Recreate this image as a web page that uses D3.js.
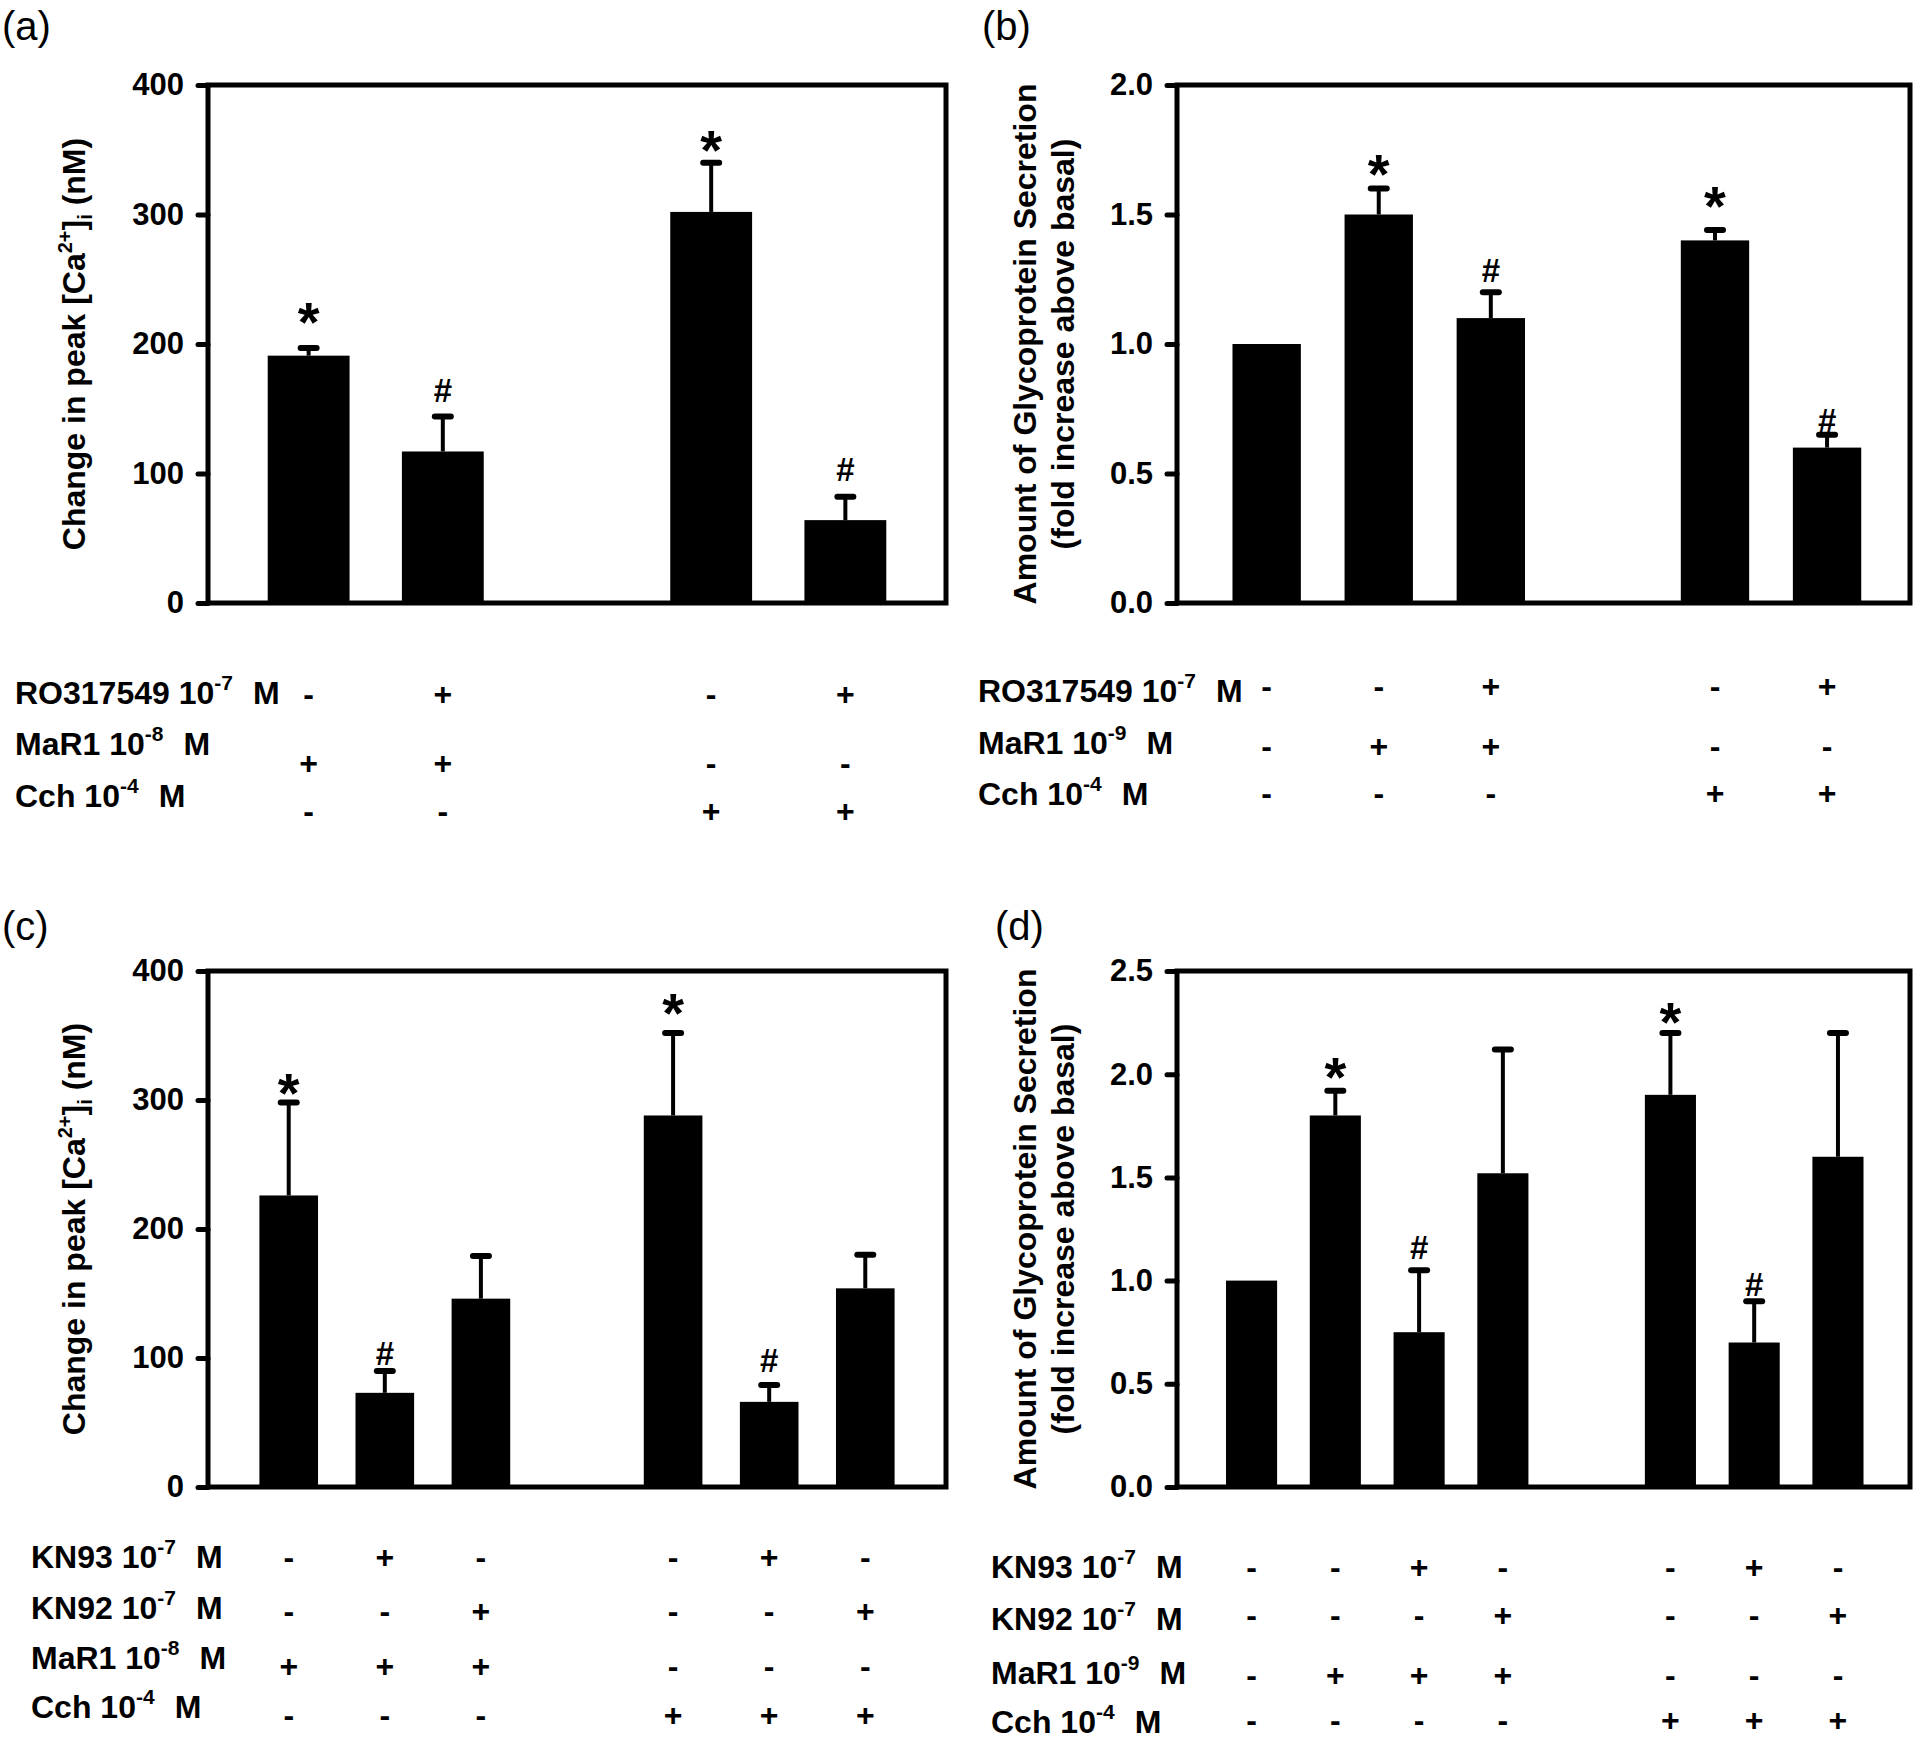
<!DOCTYPE html>
<html>
<head>
<meta charset="utf-8">
<script src="https://cdn.jsdelivr.net/npm/d3@7"></script>
<style>
    body { margin: 0; background: #fff; }
    text { font-family: "Liberation Sans", Arial, sans-serif; fill: #000; }
</style>
</head>
<body>
<svg id="fig" width="1920" height="1740"></svg>
<script>
// ---- Panel (a): [Ca2+]i, RO317549 ----
const posA = [0, 1, 3, 4];
const meanA = [191, 117, 302, 64];
const errA = [6, 27, 38, 18];
const markA = ["*", "#", "*", "#"];
const markValA = [223, 164, 356, 103];
const rowNamesA = [["RO317549 10", "-7"], ["MaR1 10", "-8"], ["Cch 10", "-4"]];
const signsA = [
    ["-", "+", "-", "+"],
    ["+", "+", "-", "-"],
    ["-", "-", "+", "+"]
];

// ---- Panel (b): glycoprotein, RO317549 ----
const posB = [0, 1, 2, 4, 5];
const meanB = [1.0, 1.5, 1.1, 1.4, 0.6];
const errB = [0, 0.1, 0.1, 0.04, 0.05];
const markB = ["", "*", "#", "*", "#"];
const markValB = [null, 1.687, 1.282, 1.564, 0.703];
const rowNamesB = [["RO317549 10", "-7"], ["MaR1 10", "-9"], ["Cch 10", "-4"]];
const signsB = [
    ["-", "-", "+", "-", "+"],
    ["-", "+", "+", "-", "-"],
    ["-", "-", "-", "+", "+"]
];

// ---- Panel (c): [Ca2+]i, KN93 / KN92 ----
const posC = [0, 1, 2, 4, 5, 6];
const meanC = [226, 73, 146, 288, 66, 154];
const errC = [72, 17, 33, 64, 13, 26];
const markC = ["*", "#", "", "*", "#", ""];
const markValC = [312, 103, null, 374, 98, null];
const rowNamesC = [["KN93 10", "-7"], ["KN92 10", "-7"], ["MaR1 10", "-8"], ["Cch 10", "-4"]];
const signsC = [
    ["-", "+", "-", "-", "+", "-"],
    ["-", "-", "+", "-", "-", "+"],
    ["+", "+", "+", "-", "-", "-"],
    ["-", "-", "-", "+", "+", "+"]
];

// ---- Panel (d): glycoprotein, KN93 / KN92 ----
const posD = [0, 1, 2, 3, 5, 6, 7];
const meanD = [1.0, 1.8, 0.75, 1.52, 1.9, 0.7, 1.6];
const errD = [0, 0.12, 0.30, 0.60, 0.30, 0.20, 0.60];
const markD = ["", "*", "#", "", "*", "#", ""];
const markValD = [null, 2.025, 1.158, null, 2.29, 0.979, null];
const rowNamesD = [["KN93 10", "-7"], ["KN92 10", "-7"], ["MaR1 10", "-9"], ["Cch 10", "-4"]];
const signsD = [
    ["-", "-", "+", "-", "-", "+", "-"],
    ["-", "-", "-", "+", "-", "-", "+"],
    ["-", "+", "+", "+", "-", "-", "-"],
    ["-", "-", "-", "-", "+", "+", "+"]
];

const ticksCa = [0, 100, 200, 300, 400];
const ticksGlyB = [0, 0.5, 1.0, 1.5, 2.0];
const ticksGlyD = [0, 0.5, 1.0, 1.5, 2.0, 2.5];

const svg = d3.select("#fig");
const fontSize = 32;

// Layout of the four panels (pixel boxes of each frame and its table)
const panels = [
    {
        tag: "(a)", tagX: 2, tagY: 40, x0: 208, x1: 946, y0: 85, y1: 603,
        xDomain: [-0.75, 4.75], yDomain: [0, 400], ticks: ticksCa, fmt: d3.format("d"),
        pos: posA, mean: meanA, err: errA, mark: markA, markVal: markValA,
        rows: rowNamesA, signs: signsA, labelX: 15,
        labelY: [693, 744, 796], signY: [694, 763, 811], title: "ca"
    },
    {
        tag: "(b)", tagX: 982, tagY: 40, x0: 1177, x1: 1910, y0: 85, y1: 603,
        xDomain: [-0.8, 5.74], yDomain: [0, 2], ticks: ticksGlyB, fmt: d3.format(".1f"),
        pos: posB, mean: meanB, err: errB, mark: markB, markVal: markValB,
        rows: rowNamesB, signs: signsB, labelX: 978,
        labelY: [691, 743, 794], signY: [686, 746, 793], title: "gly"
    },
    {
        tag: "(c)", tagX: 2, tagY: 940, x0: 208, x1: 946, y0: 971, y1: 1487,
        xDomain: [-0.84, 6.84], yDomain: [0, 400], ticks: ticksCa, fmt: d3.format("d"),
        pos: posC, mean: meanC, err: errC, mark: markC, markVal: markValC,
        rows: rowNamesC, signs: signsC, labelX: 31,
        labelY: [1557, 1608, 1658, 1707], signY: [1557, 1611, 1666, 1715], title: "ca"
    },
    {
        tag: "(d)", tagX: 995, tagY: 940, x0: 1177, x1: 1910, y0: 971, y1: 1487,
        xDomain: [-0.89, 7.86], yDomain: [0, 2.5], ticks: ticksGlyD, fmt: d3.format(".1f"),
        pos: posD, mean: meanD, err: errD, mark: markD, markVal: markValD,
        rows: rowNamesD, signs: signsD, labelX: 991,
        labelY: [1567, 1619, 1673, 1722], signY: [1567, 1615, 1675, 1720], title: "gly"
    }
];

panels.forEach(drawPanel);

function drawPanel(p) {
    const g = svg.append("g");

    const x = d3.scaleLinear().domain(p.xDomain).range([p.x0, p.x1]);
    const y = d3.scaleLinear().domain(p.yDomain).range([p.y1, p.y0]);
    const barWidth = (x(1) - x(0)) * 0.61;

    // Panel letter
    g.append("text")
        .attr("x", p.tagX)
        .attr("y", p.tagY)
        .attr("font-size", 40)
        .text(p.tag);

    // Bars
    g.selectAll("rect.bar")
        .data(p.mean)
        .enter()
        .append("rect")
        .attr("class", "bar")
        .attr("x", (d, i) => x(p.pos[i]) - barWidth / 2)
        .attr("y", d => y(d))
        .attr("width", barWidth)
        .attr("height", d => y(0) - y(d))
        .attr("fill", "#000");

    // Error bars (only the upper half is shown)
    const errData = p.mean
        .map((m, i) => ({ pos: p.pos[i], lo: m, hi: m + p.err[i] }))
        .filter(d => d.hi > d.lo);

    g.selectAll("line.err")
        .data(errData)
        .enter()
        .append("line")
        .attr("x1", d => x(d.pos))
        .attr("x2", d => x(d.pos))
        .attr("y1", d => y(d.lo))
        .attr("y2", d => y(d.hi))
        .attr("stroke", "#000")
        .attr("stroke-width", 4);

    g.selectAll("line.cap")
        .data(errData)
        .enter()
        .append("line")
        .attr("x1", d => x(d.pos) - 8)
        .attr("x2", d => x(d.pos) + 8)
        .attr("y1", d => y(d.hi))
        .attr("y2", d => y(d.hi))
        .attr("stroke", "#000")
        .attr("stroke-width", 6)
        .attr("stroke-linecap", "round");

    // Significance marks; the value is the centre of the glyph
    const markData = p.mark
        .map((m, i) => ({ sym: m, pos: p.pos[i], v: p.markVal[i] }))
        .filter(d => d.sym !== "");

    g.selectAll("text.mark")
        .data(markData)
        .enter()
        .append("text")
        .attr("x", d => x(d.pos))
        .attr("y", d => d.sym === "*" ? y(d.v) + 27 : y(d.v) + 11)
        .attr("text-anchor", "middle")
        .attr("font-weight", "bold")
        .attr("font-size", d => d.sym === "*" ? 56 : 33)
        .text(d => d.sym);

    // Frame around the plot
    g.append("rect")
        .attr("x", p.x0)
        .attr("y", p.y0)
        .attr("width", p.x1 - p.x0)
        .attr("height", p.y1 - p.y0)
        .attr("fill", "none")
        .attr("stroke", "#000")
        .attr("stroke-width", 5);

    // Left axis ticks and labels
    const axis = d3.axisLeft(y)
        .tickValues(p.ticks)
        .tickFormat(p.fmt)
        .tickSize(10)
        .tickPadding(14);

    const ag = g.append("g")
        .attr("transform", `translate(${p.x0},0)`)
        .call(axis);

    ag.select(".domain").remove();
    ag.selectAll(".tick line")
        .attr("stroke", "#000")
        .attr("stroke-width", 5)
        .attr("stroke-linecap", "round");
    ag.selectAll(".tick text")
        .style("font-family", "'Liberation Sans', Arial, sans-serif")
        .style("font-size", "31px")
        .style("font-weight", "bold")
        .attr("fill", "#000");

    // Axis title
    const midY = (p.y0 + p.y1) / 2;
    if (p.title === "ca") {
        const t = g.append("text")
            .attr("transform", `translate(85,${midY}) rotate(-90)`)
            .attr("text-anchor", "middle")
            .attr("font-weight", "bold")
            .attr("font-size", fontSize);
        t.append("tspan").text("Change in peak [Ca");
        t.append("tspan").attr("font-size", 20).attr("dy", -13).text("2+");
        t.append("tspan").attr("dy", 13).text("]");
        t.append("tspan").attr("font-size", 20).attr("dy", 7).text("i");
        t.append("tspan").attr("dy", -7).text(" (nM)");
    } else {
        const lines = ["Amount of Glycoprotein Secretion", "(fold increase above basal)"];
        g.selectAll("text.ytitle")
            .data(lines)
            .enter()
            .append("text")
            .attr("transform", (d, i) => `translate(${1036 + i * 38},${midY}) rotate(-90)`)
            .attr("text-anchor", "middle")
            .attr("font-weight", "bold")
            .attr("font-size", fontSize)
            .text(d => d);
    }

    // Treatment table under the plot
    p.rows.forEach((r, k) => {
        const t = g.append("text")
            .attr("x", p.labelX)
            .attr("y", p.labelY[k] + 11)
            .attr("font-weight", "bold")
            .attr("font-size", fontSize);
        t.append("tspan").text(r[0]);
        t.append("tspan").attr("font-size", 21).attr("dy", -14).text(r[1]);
        t.append("tspan").attr("dy", 14).attr("dx", 20).text("M");

        g.selectAll(null)
            .data(p.signs[k])
            .enter()
            .append("text")
            .attr("x", (d, i) => x(p.pos[i]))
            .attr("y", p.signY[k] + 11)
            .attr("text-anchor", "middle")
            .attr("font-weight", "bold")
            .attr("font-size", fontSize)
            .text(d => d);
    });
}
</script>
</body>
</html>
